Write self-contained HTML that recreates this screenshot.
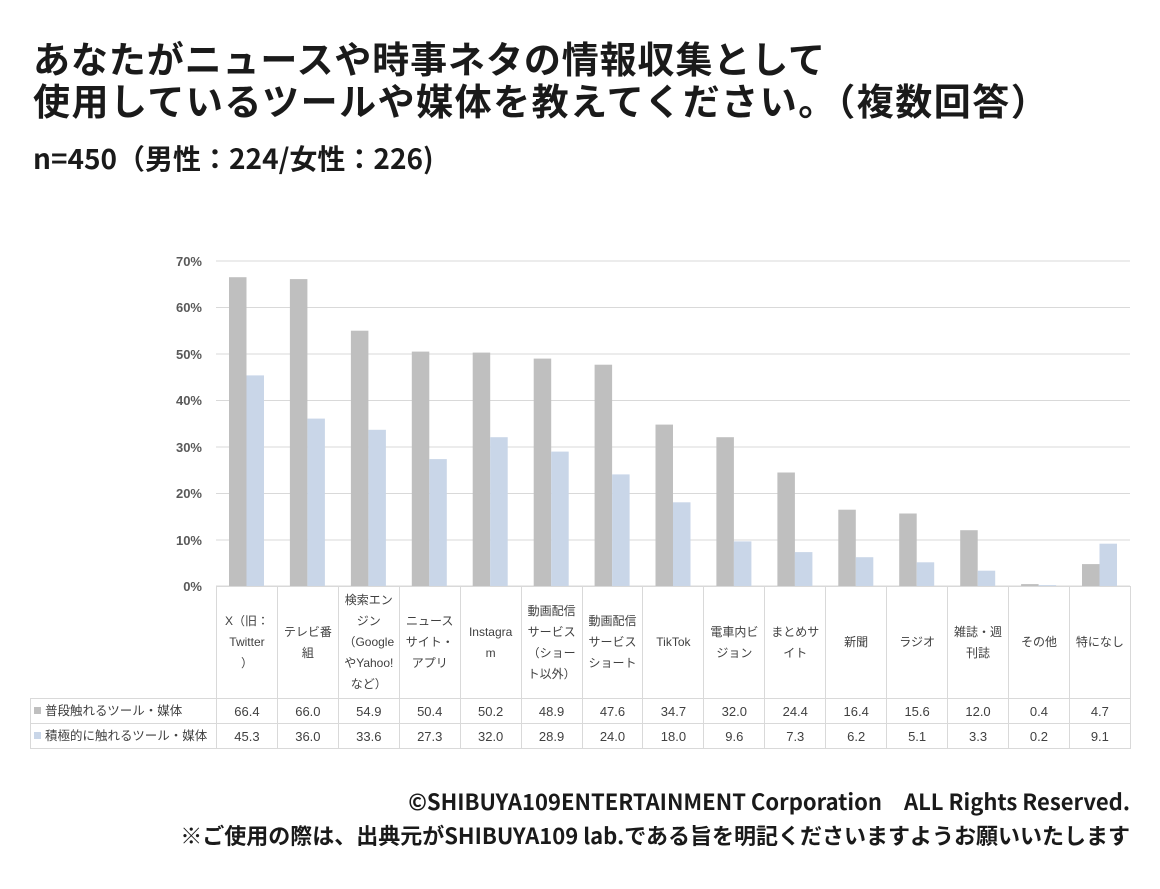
<!DOCTYPE html>
<html><head><meta charset="utf-8"><style>
body{margin:0;width:1160px;height:889px;background:#fff;position:relative;font-family:"Liberation Sans","Noto Sans CJK JP",sans-serif;color:#1a1a1a;overflow:hidden}
.t{position:absolute;left:33px;font-weight:bold;white-space:nowrap;font-family:"Noto Sans CJK JP",sans-serif}
table{position:absolute;left:30px;top:586px;border-collapse:collapse;table-layout:fixed;font-size:12px;color:#404040}
td{border:1px solid #d9d9d9;text-align:center;padding:0;line-height:21px;overflow:hidden;white-space:nowrap}
.h td{height:111px}
.r td{height:24px;font-size:13px}
td.l{text-align:left;padding-left:3px;font-size:12.5px}
.sq{display:inline-block;width:7px;height:7px;margin-right:4px;vertical-align:1px}
.f{position:absolute;right:30px;font-weight:bold;font-size:22px;white-space:nowrap;font-family:"Noto Sans CJK JP",sans-serif;line-height:28px}
</style></head><body>
<div class="t" style="top:36px;font-size:37px;line-height:42px"><span style="letter-spacing:0.9px">あなたがニュースや時事ネタの情報収集として</span><br><span style="letter-spacing:1.5px">使用しているツールや媒体を教えてください。（複数回答）</span></div>
<div class="t" style="top:139px;font-size:28px;line-height:38px">n=450（男性：224/女性：226)</div>
<svg style="position:absolute;left:0;top:0" width="1160" height="600">
<g stroke="#d9d9d9" stroke-width="1">
<line x1="216" x2="1130" y1="261" y2="261"/><line x1="216" x2="1130" y1="307.5" y2="307.5"/><line x1="216" x2="1130" y1="354" y2="354"/><line x1="216" x2="1130" y1="400.5" y2="400.5"/><line x1="216" x2="1130" y1="447" y2="447"/><line x1="216" x2="1130" y1="493.5" y2="493.5"/><line x1="216" x2="1130" y1="540" y2="540"/><line x1="216" x2="1130" y1="586" y2="586"/>
</g>
<g font-size="13" font-weight="bold" fill="#595959" text-anchor="end" font-family="Liberation Sans, sans-serif">
<text x="202" y="266">70%</text><text x="202" y="312">60%</text><text x="202" y="359">50%</text><text x="202" y="405">40%</text><text x="202" y="452">30%</text><text x="202" y="498">20%</text><text x="202" y="545">10%</text><text x="202" y="591">0%</text>
</g>
<g fill="#bfbfbf">
<rect x="229" y="277.2" width="17.5" height="308.8"/>
<rect x="289.9" y="279.1" width="17.5" height="306.9"/>
<rect x="350.9" y="330.7" width="17.5" height="255.3"/>
<rect x="411.8" y="351.6" width="17.5" height="234.4"/>
<rect x="472.7" y="352.6" width="17.5" height="233.4"/>
<rect x="533.7" y="358.6" width="17.5" height="227.4"/>
<rect x="594.6" y="364.7" width="17.5" height="221.3"/>
<rect x="655.5" y="424.6" width="17.5" height="161.4"/>
<rect x="716.4" y="437.2" width="17.5" height="148.8"/>
<rect x="777.4" y="472.5" width="17.5" height="113.5"/>
<rect x="838.3" y="509.7" width="17.5" height="76.3"/>
<rect x="899.2" y="513.5" width="17.5" height="72.5"/>
<rect x="960.2" y="530.2" width="17.5" height="55.8"/>
<rect x="1021.1" y="584.1" width="17.5" height="1.9"/>
<rect x="1082" y="564.1" width="17.5" height="21.9"/>
</g>
<g fill="#c9d6e8">
<rect x="246.5" y="375.4" width="17.5" height="210.6"/>
<rect x="307.4" y="418.6" width="17.5" height="167.4"/>
<rect x="368.4" y="429.8" width="17.5" height="156.2"/>
<rect x="429.3" y="459.1" width="17.5" height="126.9"/>
<rect x="490.2" y="437.2" width="17.5" height="148.8"/>
<rect x="551.2" y="451.6" width="17.5" height="134.4"/>
<rect x="612.1" y="474.4" width="17.5" height="111.6"/>
<rect x="673" y="502.3" width="17.5" height="83.7"/>
<rect x="733.9" y="541.4" width="17.5" height="44.6"/>
<rect x="794.9" y="552.1" width="17.5" height="33.9"/>
<rect x="855.8" y="557.2" width="17.5" height="28.8"/>
<rect x="916.7" y="562.3" width="17.5" height="23.7"/>
<rect x="977.7" y="570.7" width="17.5" height="15.3"/>
<rect x="1038.6" y="585.1" width="17.5" height="0.9"/>
<rect x="1099.5" y="543.7" width="17.5" height="42.3"/>
</g>
</svg>
<table>
<colgroup><col style="width:186px"><col span="15" style="width:60.93px"></colgroup>
<tr class="h"><td style="border:none;border-right:1px solid #d9d9d9"></td>
<td>X（旧：<br>Twitter<br>）</td><td>テレビ番<br>組</td><td>検索エン<br>ジン<br>（Google<br>やYahoo!<br>など）</td><td>ニュース<br>サイト・<br>アプリ</td><td>Instagra<br>m</td><td>動画配信<br>サービス<br>（ショー<br>ト以外）</td><td>動画配信<br>サービス<br>ショート</td><td>TikTok</td><td>電車内ビ<br>ジョン</td><td>まとめサ<br>イト</td><td>新聞</td><td>ラジオ</td><td>雑誌・週<br>刊誌</td><td>その他</td><td>特になし</td></tr>
<tr class="r"><td class="l"><span class="sq" style="background:#bfbfbf"></span>普段触れるツール・媒体</td><td>66.4</td><td>66.0</td><td>54.9</td><td>50.4</td><td>50.2</td><td>48.9</td><td>47.6</td><td>34.7</td><td>32.0</td><td>24.4</td><td>16.4</td><td>15.6</td><td>12.0</td><td>0.4</td><td>4.7</td></tr>
<tr class="r"><td class="l"><span class="sq" style="background:#c9d6e8"></span>積極的に触れるツール・媒体</td><td>45.3</td><td>36.0</td><td>33.6</td><td>27.3</td><td>32.0</td><td>28.9</td><td>24.0</td><td>18.0</td><td>9.6</td><td>7.3</td><td>6.2</td><td>5.1</td><td>3.3</td><td>0.2</td><td>9.1</td></tr>
</table>
<div class="f" style="top:787px">©SHIBUYA109ENTERTAINMENT Corporation　ALL Rights Reserved.</div>
<div class="f" style="top:821px">※ご使用の際は、出典元がSHIBUYA109 lab.である旨を明記くださいますようお願いいたします</div>
</body></html>
